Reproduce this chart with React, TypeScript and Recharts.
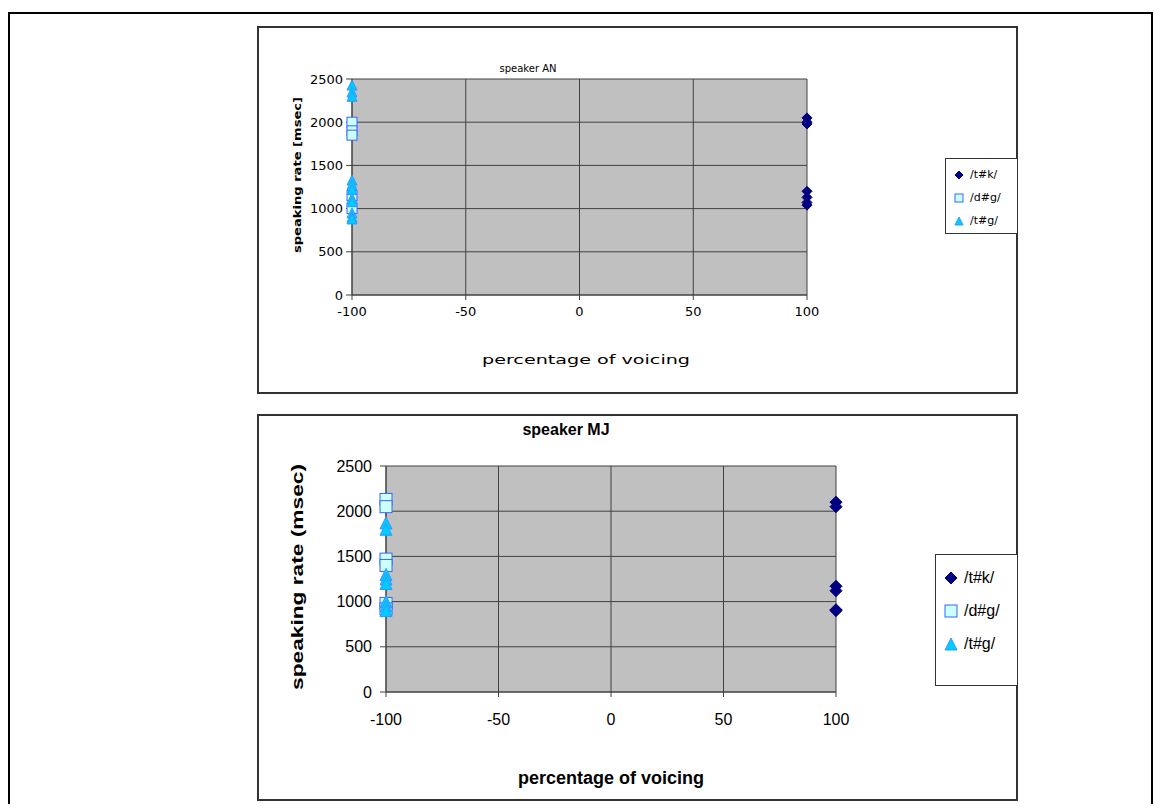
import { ScatterChart, Scatter, XAxis, YAxis, CartesianGrid } from "recharts"

const xTicks = [-100, -50, 0, 50, 100]
const yTicks = [0, 500, 1000, 1500, 2000, 2500]
const seriesNames = ["/t#k/", "/d#g/", "/t#g/"]

// speaker AN: speaking rate per token
const anTkX = 100
const anTkY = [2050, 2000, 1980, 1200, 1130, 1070, 1040]
const anDgX = -100
const anDgY = [2000, 1900, 1850, 1150, 1000]
const anTgX = -100
const anTgY = [2430, 2350, 2300, 1330, 1280, 1220, 1120, 1080, 950, 900, 880]

// speaker MJ
const mjTkX = 100
const mjTkY = [2100, 2050, 1170, 1120, 910, 900]
const mjDgX = -100
const mjDgY = [2130, 2050, 1470, 1400, 980, 920]
const mjTgX = -100
const mjTgY = [1870, 1800, 1300, 1250, 1200, 1000, 950, 900]

const toPoints = (x: number, ys: number[]) => ys.map((y) => ({ x, y }))

const NAVY = "#000080"
const SQ_FILL = "#CCFFFF"
const SQ_STROKE = "#3366FF"
const TRI_FILL = "#00CCFF"
const TRI_STROKE = "#3399FF"

function Diamond({ cx, cy, r }: { cx: number; cy: number; r: number }) {
  return (
    <polygon
      points={`${cx},${cy - r} ${cx + r},${cy} ${cx},${cy + r} ${cx - r},${cy}`}
      fill={NAVY}
      stroke={NAVY}
    />
  )
}

function Square({ cx, cy, r }: { cx: number; cy: number; r: number }) {
  return <rect x={cx - r} y={cy - r} width={r * 2} height={r * 2} fill={SQ_FILL} stroke={SQ_STROKE} />
}

function Triangle({ cx, cy, r }: { cx: number; cy: number; r: number }) {
  return (
    <polygon
      points={`${cx},${cy - r} ${cx + r},${cy + r} ${cx - r},${cy + r}`}
      fill={TRI_FILL}
      stroke={TRI_STROKE}
    />
  )
}

const markers = [Diamond, Square, Triangle]

function LegendBox({ left, top, width, height, font, size, gap, r, padTop }: any) {
  return (
    <div
      style={{
        position: "absolute",
        left,
        top,
        width,
        height,
        boxSizing: "border-box",
        border: "1px solid #333",
        background: "#fff",
        fontFamily: font,
        fontSize: size,
        paddingTop: padTop,
      }}
    >
      {seriesNames.map((name, i) => {
        const M = markers[i]
        return (
          <div key={name} style={{ display: "flex", alignItems: "center", height: gap, paddingLeft: 6 }}>
            <svg width={r * 2 + 6} height={r * 2 + 4} style={{ marginRight: 4 }}>
              <M cx={r + 3} cy={r + 2} r={r} />
            </svg>
            <span>{name}</span>
          </div>
        )
      })}
    </div>
  )
}

const axisColor = "#404040"

export default function App() {
  const f1 = "DejaVu Sans"
  const f2 = "Liberation Sans, Arial"

  return (
    <div style={{ position: "relative", width: 1145, height: 796 }}>
      <div
        style={{
          position: "absolute",
          left: 0,
          top: 4,
          width: 1145,
          height: 796,
          boxSizing: "border-box",
          border: "2px solid #000",
          borderBottom: "none",
        }}
      />

      {/* speaker AN */}
      <div
        style={{
          position: "absolute",
          left: 249,
          top: 18,
          width: 761,
          height: 368,
          boxSizing: "border-box",
          border: "2px solid #333",
          background: "#fff",
        }}
      >
        <div
          style={{
            position: "absolute",
            left: 269,
            top: 40,
            transform: "translate(-50%, -50%)",
            fontFamily: f1,
            fontSize: 10,
            whiteSpace: "nowrap",
          }}
        >
          speaker AN
        </div>
        <ScatterChart width={757} height={364} margin={{ top: 51, right: 209, bottom: 67, left: 33 }}>
          <CartesianGrid fill="#C0C0C0" stroke={axisColor} strokeOpacity={1} />
          <XAxis
            type="number"
            dataKey="x"
            domain={[-100, 100]}
            ticks={xTicks}
            height={30}
            axisLine={{ stroke: axisColor }}
            tickLine={{ stroke: axisColor }}
            tickSize={5}
            tickMargin={7}
            tick={{ fill: "#000", fontFamily: f1, fontSize: 13 }}
            label={{
              content: () => (
                <text x={327} y={336} textAnchor="middle" fontFamily={f1} fontSize={12} textLength={208} lengthAdjust="spacingAndGlyphs">
                  percentage of voicing
                </text>
              ),
            }}
          />
          <YAxis
            type="number"
            dataKey="y"
            domain={[0, 2500]}
            ticks={yTicks}
            width={60}
            axisLine={{ stroke: axisColor }}
            tickLine={{ stroke: axisColor }}
            tickSize={6}
            tickMargin={3}
            tick={{ fill: "#000", fontFamily: f1, fontSize: 13 }}
            label={{
              content: () => (
                <text
                  x={0}
                  y={0}
                  transform="translate(42,147) rotate(-90)"
                  textAnchor="middle"
                  fontFamily={f1}
                  fontWeight="bold"
                  fontSize={11}
                  textLength={156}
                  lengthAdjust="spacingAndGlyphs"
                >
                  speaking rate [msec]
                </text>
              ),
            }}
          />
          <Scatter data={toPoints(anTkX, anTkY)} isAnimationActive={false} shape={(p: any) => <Diamond cx={p.cx} cy={p.cy} r={5} />} />
          <Scatter data={toPoints(anDgX, anDgY)} isAnimationActive={false} shape={(p: any) => <Square cx={p.cx} cy={p.cy} r={5} />} />
          <Scatter data={toPoints(anTgX, anTgY)} isAnimationActive={false} shape={(p: any) => <Triangle cx={p.cx} cy={p.cy} r={5} />} />
        </ScatterChart>
        <LegendBox left={686} top={130} width={73} height={76} font={f1} size={11} gap={23} r={4} padTop={4} />
      </div>

      {/* speaker MJ */}
      <div
        style={{
          position: "absolute",
          left: 249,
          top: 406,
          width: 761,
          height: 387,
          boxSizing: "border-box",
          border: "2px solid #333",
          background: "#fff",
        }}
      >
        <div
          style={{
            position: "absolute",
            left: 307,
            top: 14,
            transform: "translate(-50%, -50%)",
            fontFamily: f2,
            fontWeight: "bold",
            fontSize: 16,
            whiteSpace: "nowrap",
          }}
        >
          speaker MJ
        </div>
        <ScatterChart width={757} height={383} margin={{ top: 50, right: 180, bottom: 67, left: 57 }}>
          <CartesianGrid fill="#C0C0C0" stroke={axisColor} strokeOpacity={1} />
          <XAxis
            type="number"
            dataKey="x"
            domain={[-100, 100]}
            ticks={xTicks}
            height={40}
            axisLine={{ stroke: axisColor }}
            tickLine={{ stroke: axisColor }}
            tickSize={5}
            tickMargin={17}
            tick={{ fill: "#000", fontFamily: f2, fontSize: 16 }}
            label={{
              content: () => (
                <text x={352} y={368} textAnchor="middle" fontFamily={f2} fontWeight="bold" fontSize={18}>
                  percentage of voicing
                </text>
              ),
            }}
          />
          <YAxis
            type="number"
            dataKey="y"
            domain={[0, 2500]}
            ticks={yTicks}
            width={70}
            axisLine={{ stroke: axisColor }}
            tickLine={{ stroke: axisColor }}
            tickSize={6}
            tickMargin={8}
            tick={{ fill: "#000", fontFamily: f2, fontSize: 16 }}
            label={{
              content: () => (
                <text
                  x={0}
                  y={0}
                  transform="translate(44,161) rotate(-90)"
                  textAnchor="middle"
                  fontFamily={f2}
                  fontWeight="bold"
                  fontSize={17}
                  textLength={226}
                  lengthAdjust="spacingAndGlyphs"
                >
                  speaking rate (msec)
                </text>
              ),
            }}
          />
          <Scatter data={toPoints(mjTkX, mjTkY)} isAnimationActive={false} shape={(p: any) => <Diamond cx={p.cx} cy={p.cy} r={6} />} />
          <Scatter data={toPoints(mjDgX, mjDgY)} isAnimationActive={false} shape={(p: any) => <Square cx={p.cx} cy={p.cy} r={6} />} />
          <Scatter data={toPoints(mjTgX, mjTgY)} isAnimationActive={false} shape={(p: any) => <Triangle cx={p.cx} cy={p.cy} r={6} />} />
        </ScatterChart>
        <LegendBox left={676} top={138} width={83} height={132} font={f2} size={16} gap={33} r={6} padTop={6} />
      </div>
    </div>
  )
}
